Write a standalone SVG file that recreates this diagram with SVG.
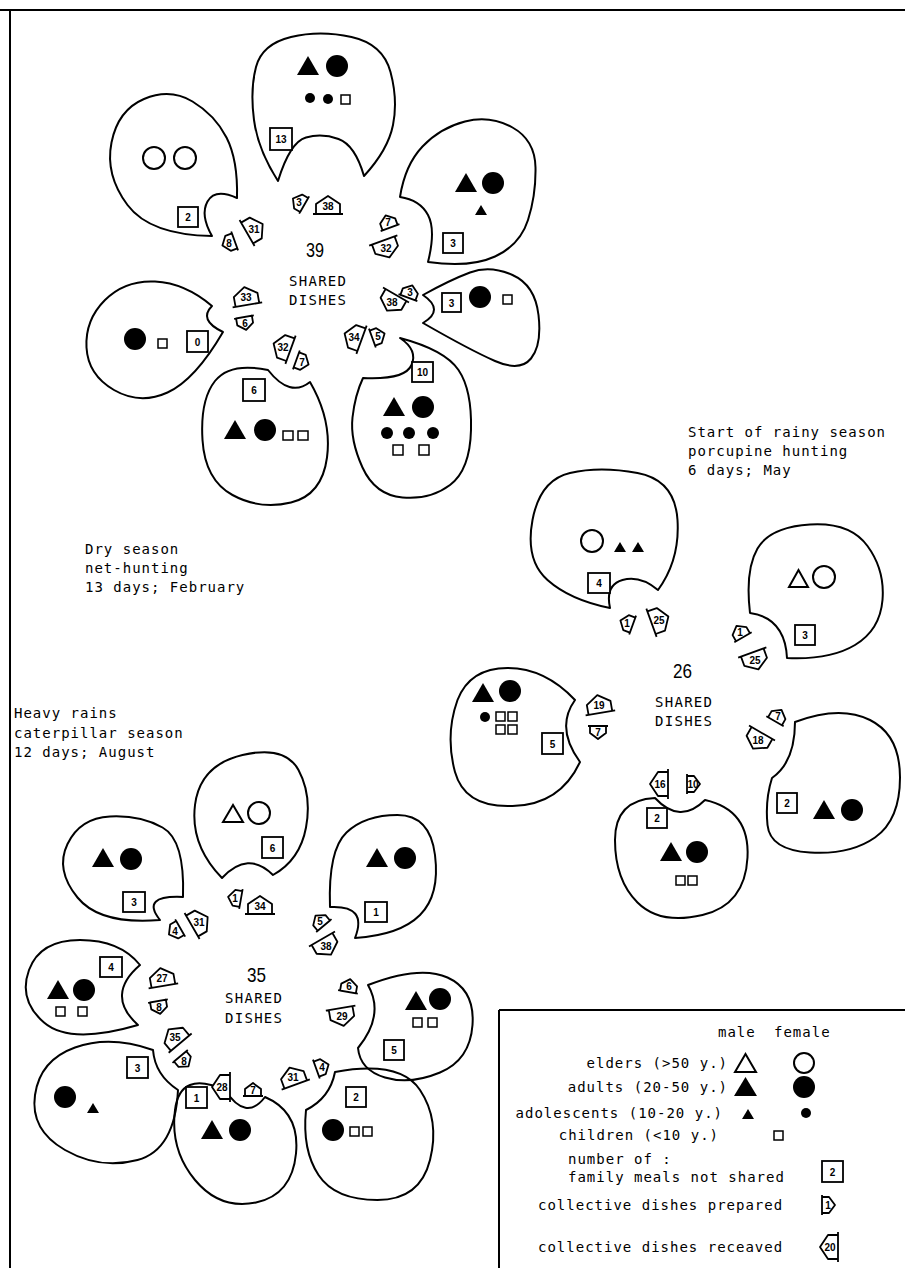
<svg xmlns="http://www.w3.org/2000/svg" xmlns:xlink="http://www.w3.org/1999/xlink" width="905" height="1268" viewBox="0 0 905 1268">
<style>
.blob{fill:none;stroke:#000;stroke-width:2;stroke-linejoin:round}
.box{fill:#fff;stroke:#000;stroke-width:1.8}
.bt{font-family:"Liberation Sans",Arial,sans-serif;font-weight:bold;font-size:10px;text-anchor:middle}
.lbl{font-family:"DejaVu Sans Mono","Liberation Mono",monospace;font-size:14px;letter-spacing:1px}
.ctr{font-family:"DejaVu Sans Mono","Liberation Mono",monospace;font-size:14px;text-anchor:middle}
.big{font-family:"Liberation Sans",Arial,sans-serif;font-size:21px;text-anchor:middle}
.f{fill:#000}
.o{fill:none;stroke:#000;stroke-width:2}
.sq{fill:#fff;stroke:#000;stroke-width:1.5}
.mk{fill:#fff;stroke:#000;stroke-width:1.8;stroke-linejoin:round}
.mt{font-family:"Liberation Sans",Arial,sans-serif;font-weight:bold;font-size:10px;text-anchor:middle}
.frame{fill:none;stroke:#000;stroke-width:2}
</style>
<defs>
<path id="tri" d="M-11,9 L0,-10 L11,9 Z"/>
<path id="stri" d="M-6,5 L0,-5 L6,5 Z"/>
<path id="mb" d="M-12,8 L-12,-2 L0,-10 L12,-2 L12,8 Z M-15,8 L15,8"/>
<path id="ms" d="M-8,6 L-8,-1 L0,-7 L8,-1 L8,6 Z M-10,6 L10,6"/>
</defs>
<rect width="905" height="1268" fill="#fff"/>
<path class="frame" d="M0,10 L905,10 M10,10 L10,1268"/>
<path class="frame" d="M499,1010 L905,1010 M499,1010 L499,1268"/>

<!-- TOP CLUSTER -->
<g id="top-13">
<path class="blob" d="M278,181 Q258,150 254,120 Q250,90 256,67 Q262,44 291,37 Q320,30 351.5,37 Q383,44 390.5,72 Q398,100 393,125 Q388,150 364,176 Q355,145 338.5,139 Q322,133 306,137.5 Q290,142 278,181 Z"/>
<use href="#tri" class="f" x="308" y="66"/><circle class="f" cx="337" cy="66" r="11"/>
<circle class="f" cx="310" cy="98" r="5"/><circle class="f" cx="328" cy="99" r="5"/><rect class="sq" x="341" y="95" width="9" height="9"/>
<rect class="box" x="270" y="128" width="22" height="22"/><text class="bt" x="281" y="143">13</text>
</g>
<g id="top-2">
<path class="blob" d="M237,198 Q238,160 226.5,137.5 Q215,115 192.5,101.5 Q170,88 144,99 Q118,110 111.5,142.5 Q105,175 127.5,205 Q150,235 212,236 Q200,215 207.5,201.5 Q215,188 237,198 Z"/>
<circle class="o" cx="154" cy="158" r="11"/><circle class="o" cx="185" cy="158" r="11"/>
<rect class="box" x="178" y="207" width="20" height="20"/><text class="bt" x="188" y="221">2</text>
</g>
<g id="top-3a">
<path class="blob" d="M400,197 Q405,165 422.5,146.5 Q440,128 465,121.5 Q490,115 512.5,127.5 Q535,140 535.5,167.5 Q536,195 528,220 Q520,245 495,256.5 Q470,268 428,262 Q436,230 428,215 Q420,200 400,197 Z"/>
<use href="#tri" class="f" x="466" y="183"/><circle class="f" cx="493" cy="183" r="11"/>
<use href="#stri" class="f" x="481" y="210"/>
<rect class="box" x="443" y="233" width="20" height="20"/><text class="bt" x="453" y="247">3</text>
</g>
<g id="top-3b">
<path class="blob" d="M423,295 Q450,280 470,272.5 Q490,265 512.5,275 Q535,285 538.5,315 Q542,345 531,358.5 Q520,372 495,361 Q470,350 423,323 Q445,310 423,295 Z"/>
<rect class="box" x="442" y="293" width="19" height="19"/><text class="bt" x="451.5" y="306.5">3</text>
<circle class="f" cx="480" cy="297" r="11"/><rect class="sq" x="503" y="295" width="9" height="9"/>
</g>
<g id="top-10">
<path class="blob" d="M400,338 Q445,350 458.5,370 Q472,390 471,430 Q470,470 450,485 Q430,500 402.5,497.5 Q375,495 362.5,467.5 Q350,440 352.5,417.5 Q355,395 363,378 Q405,380 411.5,365 Q418,350 400,338 Z"/>
<rect class="box" x="412" y="362" width="21" height="20"/><text class="bt" x="422.5" y="376">10</text>
<use href="#tri" class="f" x="394" y="407"/><circle class="f" cx="423" cy="407" r="11"/>
<circle class="f" cx="387" cy="433" r="6"/><circle class="f" cx="409" cy="433" r="6"/><circle class="f" cx="433" cy="433" r="6"/>
<rect class="sq" x="393" y="445" width="10" height="10"/><rect class="sq" x="419" y="445" width="10" height="10"/>
</g>
<g id="top-6">
<path class="blob" d="M268,370 Q230,362 215,381 Q200,400 202.5,440 Q205,480 232.5,495 Q260,510 291,502.5 Q322,495 327,457.5 Q332,420 310,382 Q290,398 268,370 Z"/>
<rect class="box" x="243" y="379" width="22" height="22"/><text class="bt" x="254" y="394">6</text>
<use href="#tri" class="f" x="235" y="430"/><circle class="f" cx="265" cy="430" r="11"/>
<rect class="sq" x="283" y="431" width="10" height="9"/><rect class="sq" x="298" y="431" width="10" height="9"/>
</g>
<g id="top-0">
<path class="blob" d="M212,306 Q185,283 155,281.5 Q125,280 105,300 Q85,320 86.5,347.5 Q88,375 114,390 Q140,405 167.5,392.5 Q195,380 223,332 Q198,320 212,306 Z"/>
<circle class="f" cx="135" cy="339" r="11"/><rect class="sq" x="158" y="339" width="9" height="9"/>
<rect class="box" x="187" y="331" width="21" height="21"/><text class="bt" x="197.5" y="345.5">0</text>
</g>
<g id="top-center">
<text class="big" x="315" y="257" textLength="18" lengthAdjust="spacingAndGlyphs">39</text>
<text class="ctr" x="317.5" y="286" textLength="57">SHARED</text>
<text class="ctr" x="317.5" y="305" textLength="57">DISHES</text>
</g>

<!-- RIGHT CLUSTER -->
<g id="right-4">
<path class="blob" d="M658,590 Q680,560 677.5,520 Q675,480 637.5,473 Q600,466 570,473 Q540,480 532.5,520 Q525,560 547.5,580 Q570,600 610,608 Q605,585 622.5,580 Q640,575 658,590 Z"/>
<circle class="o" cx="592" cy="541" r="11"/>
<use href="#stri" class="f" x="620" y="547"/><use href="#stri" class="f" x="638" y="547"/>
<rect class="box" x="588" y="573" width="22" height="20"/><text class="bt" x="599" y="587">4</text>
</g>
<g id="right-3">
<path class="blob" d="M750,613 Q745,570 757.5,548.5 Q770,527 810,524.5 Q850,522 867.5,546 Q885,570 882.5,600 Q880,630 855,645 Q830,660 787,658 Q785,618 750,613 Z"/>
<path class="o" d="M789,587 L798.5,570 L808,587 Z"/><circle class="o" cx="824" cy="577" r="11"/>
<rect class="box" x="795" y="625" width="20" height="20"/><text class="bt" x="805" y="639">3</text>
</g>
<g id="right-5">
<path class="blob" d="M575,700 Q545,668 507.5,668 Q470,668 457.5,700 Q445,735 455,772 Q465,808 512.5,806 Q560,805 580,762 Q555,728 575,700 Z"/>
<use href="#tri" class="f" x="483" y="693"/><circle class="f" cx="510" cy="691" r="11"/>
<circle class="f" cx="485" cy="717" r="5"/>
<rect class="sq" x="496" y="712" width="9" height="9"/><rect class="sq" x="508" y="712" width="9" height="9"/>
<rect class="sq" x="496" y="725" width="9" height="9"/><rect class="sq" x="508" y="725" width="9" height="9"/>
<rect class="box" x="542" y="733" width="21" height="21"/><text class="bt" x="552.5" y="747.5">5</text>
</g>
<g id="right-2a">
<path class="blob" d="M795,722 Q840,705 870,720 Q900,735 900,777.5 Q900,820 875,837.5 Q850,855 810,852.5 Q770,850 767.5,825 Q765,800 772,778 Q795,762 795,722 Z"/>
<rect class="box" x="777" y="793" width="20" height="20"/><text class="bt" x="787" y="807">2</text>
<use href="#tri" class="f" x="824" y="810"/><circle class="f" cx="852" cy="810" r="11"/>
</g>
<g id="right-2b">
<path class="blob" d="M655,798 Q615,800 615,840 Q615,880 637.5,902.5 Q660,925 702.5,915 Q745,905 747.5,857.5 Q750,810 705,800 Q680,825 655,798 Z"/>
<rect class="box" x="647" y="808" width="20" height="20"/><text class="bt" x="657" y="822">2</text>
<use href="#tri" class="f" x="671" y="852"/><circle class="f" cx="697" cy="852" r="11"/>
<rect class="sq" x="676" y="876" width="9" height="9"/><rect class="sq" x="688" y="876" width="9" height="9"/>
</g>
<g id="right-center">
<text class="big" x="682.5" y="678" textLength="19" lengthAdjust="spacingAndGlyphs">26</text>
<text class="ctr" x="683.5" y="707" textLength="57">SHARED</text>
<text class="ctr" x="683.5" y="726" textLength="57">DISHES</text>
</g>

<!-- BOTTOM CLUSTER -->
<g id="bottom-6">
<path class="blob" d="M222,878 Q190,845 195,805 Q200,765 242.5,755 Q285,745 298.5,770 Q312,795 306,827.5 Q300,860 273,875 Q248,850 222,878 Z"/>
<path class="o" d="M223,822 L233,805 L243,822 Z"/><circle class="o" cx="259" cy="813" r="11"/>
<rect class="box" x="262" y="837" width="21" height="21"/><text class="bt" x="272.5" y="851.5">6</text>
</g>
<g id="bottom-3a">
<path class="blob" d="M183,897 Q185,840 162.5,827.5 Q140,815 110,816.5 Q80,818 67.5,844 Q55,870 77.5,897.5 Q100,925 160,920 Q140,895 183,897 Z"/>
<use href="#tri" class="f" x="103" y="858"/><circle class="f" cx="131" cy="859" r="11"/>
<rect class="box" x="123" y="892" width="22" height="20"/><text class="bt" x="134" y="906">3</text>
</g>
<g id="bottom-4">
<path class="blob" d="M140,965 Q120,940 80,940 Q40,940 29,970 Q18,1000 44,1022.5 Q70,1045 138,1025 Q105,995 140,965 Z"/>
<use href="#tri" class="f" x="58" y="990"/><circle class="f" cx="84" cy="990" r="11"/>
<rect class="sq" x="56" y="1007" width="9" height="9"/><rect class="sq" x="78" y="1007" width="9" height="9"/>
<rect class="box" x="100" y="957" width="22" height="20"/><text class="bt" x="111" y="971">4</text>
</g>
<g id="bottom-3b">
<path class="blob" d="M153,1050 Q110,1035 75,1047.5 Q40,1060 35,1095 Q30,1130 65,1150 Q100,1170 137.5,1160 Q175,1150 178,1090 Q155,1075 153,1050 Z"/>
<rect class="box" x="127" y="1057" width="21" height="21"/><text class="bt" x="137.5" y="1071.5">3</text>
<circle class="f" cx="65" cy="1097" r="11"/><use href="#stri" class="f" x="93" y="1108"/>
</g>
<g id="bottom-1a">
<path class="blob" d="M225,1090 Q180,1070 175,1110 Q170,1150 195,1180 Q220,1210 256,1202.5 Q292,1195 296,1153.5 Q300,1112 265,1097 Q246,1122 225,1090 Z"/>
<rect class="box" x="186" y="1087" width="21" height="21"/><text class="bt" x="196.5" y="1101.5">1</text>
<use href="#tri" class="f" x="212" y="1130"/><circle class="f" cx="240" cy="1130" r="11"/>
</g>
<g id="bottom-2">
<path class="blob" d="M335,1072 Q400,1060 420,1090 Q440,1120 430,1160 Q420,1200 377.5,1200 Q335,1200 318.5,1175 Q302,1150 306,1110 Q330,1098 335,1072 Z"/>
<rect class="box" x="346" y="1087" width="20" height="20"/><text class="bt" x="356" y="1101">2</text>
<circle class="f" cx="333" cy="1130" r="11"/>
<rect class="sq" x="350" y="1127" width="9" height="9"/><rect class="sq" x="363" y="1127" width="9" height="9"/>
</g>
<g id="bottom-5">
<path class="blob" d="M368,985 Q420,965 447.5,977.5 Q475,990 472.5,1025 Q470,1060 440,1072.5 Q410,1085 385,1077.5 Q360,1070 358,1048 Q385,1015 368,985 Z"/>
<use href="#tri" class="f" x="416" y="1001"/><circle class="f" cx="440" cy="999" r="11"/>
<rect class="sq" x="413" y="1018" width="9" height="9"/><rect class="sq" x="428" y="1018" width="9" height="9"/>
<rect class="box" x="384" y="1040" width="20" height="20"/><text class="bt" x="394" y="1054">5</text>
</g>
<g id="bottom-1b">
<path class="blob" d="M330,907 Q328,850 346.5,832.5 Q365,815 397.5,815 Q430,815 435,855 Q440,895 420,915 Q400,935 355,938 Q368,905 330,907 Z"/>
<use href="#tri" class="f" x="377" y="858"/><circle class="f" cx="405" cy="858" r="11"/>
<rect class="box" x="365" y="902" width="22" height="20"/><text class="bt" x="376" y="916">1</text>
</g>
<g id="bottom-center">
<text class="big" x="256.5" y="982" textLength="19" lengthAdjust="spacingAndGlyphs">35</text>
<text class="ctr" x="253.5" y="1003" textLength="57">SHARED</text>
<text class="ctr" x="253.5" y="1023" textLength="57">DISHES</text>
</g>

<!-- DISH EXCHANGE MARKERS (connectors) -->
<g id="dishes">
<use href="#ms" class="mk" transform="translate(299,202) rotate(-60)"/><text class="mt" x="299" y="205.5">3</text>
<use href="#mb" class="mk" transform="translate(328,206) rotate(0)"/><text class="mt" x="328" y="210">38</text>
<use href="#ms" class="mk" transform="translate(229,243) rotate(-110)"/><text class="mt" x="229" y="246.5">8</text>
<use href="#mb" class="mk" transform="translate(254,229) rotate(60)"/><text class="mt" x="254" y="232.5">31</text>
<use href="#ms" class="mk" transform="translate(388,222) rotate(-20)"/><text class="mt" x="388" y="225.5">7</text>
<use href="#mb" class="mk" transform="translate(386,248) rotate(160)"/><text class="mt" x="386" y="251.5">32</text>
<use href="#ms" class="mk" transform="translate(410,292) rotate(20)"/><text class="mt" x="410" y="295.5">3</text>
<use href="#mb" class="mk" transform="translate(392,302) rotate(-150)"/><text class="mt" x="392" y="305.5">38</text>
<use href="#mb" class="mk" transform="translate(354,337) rotate(-70)"/><text class="mt" x="354" y="340.5">34</text>
<use href="#ms" class="mk" transform="translate(378,336) rotate(70)"/><text class="mt" x="378" y="339.5">5</text>
<use href="#mb" class="mk" transform="translate(283,347) rotate(-70)"/><text class="mt" x="283" y="350.5">32</text>
<use href="#ms" class="mk" transform="translate(302,362) rotate(110)"/><text class="mt" x="302" y="365.5">7</text>
<use href="#mb" class="mk" transform="translate(246,297) rotate(-10)"/><text class="mt" x="246" y="300.5">33</text>
<use href="#ms" class="mk" transform="translate(245,323) rotate(170)"/><text class="mt" x="245" y="326.5">6</text>

<use href="#ms" class="mk" transform="translate(627,623) rotate(-70)"/><text class="mt" x="627" y="626.5">1</text>
<use href="#mb" class="mk" transform="translate(659,620) rotate(70)"/><text class="mt" x="659" y="623.5">25</text>
<use href="#ms" class="mk" transform="translate(740,632) rotate(-30)"/><text class="mt" x="740" y="635.5">1</text>
<use href="#mb" class="mk" transform="translate(755,660) rotate(160)"/><text class="mt" x="755" y="663.5">25</text>
<use href="#mb" class="mk" transform="translate(599,705) rotate(-10)"/><text class="mt" x="599" y="708.5">19</text>
<use href="#ms" class="mk" transform="translate(598,732) rotate(180)"/><text class="mt" x="598" y="735.5">7</text>
<use href="#ms" class="mk" transform="translate(778,716) rotate(30)"/><text class="mt" x="778" y="719.5">7</text>
<use href="#mb" class="mk" transform="translate(758,740) rotate(-150)"/><text class="mt" x="758" y="743.5">18</text>
<use href="#mb" class="mk" transform="translate(660,784) rotate(-90)"/><text class="mt" x="660" y="787.5">16</text>
<use href="#ms" class="mk" transform="translate(693,784) rotate(90)"/><text class="mt" x="693" y="787.5">10</text>

<use href="#ms" class="mk" transform="translate(235,898) rotate(-80)"/><text class="mt" x="235" y="901.5">1</text>
<use href="#mb" class="mk" transform="translate(260,906) rotate(0)"/><text class="mt" x="260" y="910">34</text>
<use href="#ms" class="mk" transform="translate(175,931) rotate(-120)"/><text class="mt" x="175" y="934.5">4</text>
<use href="#mb" class="mk" transform="translate(199,922) rotate(60)"/><text class="mt" x="199" y="925.5">31</text>
<use href="#mb" class="mk" transform="translate(162,978) rotate(-10)"/><text class="mt" x="162" y="981.5">27</text>
<use href="#ms" class="mk" transform="translate(159,1007) rotate(170)"/><text class="mt" x="159" y="1010.5">8</text>
<use href="#mb" class="mk" transform="translate(175,1037) rotate(-40)"/><text class="mt" x="175" y="1040.5">35</text>
<use href="#ms" class="mk" transform="translate(184,1061) rotate(140)"/><text class="mt" x="184" y="1064.5">8</text>
<use href="#mb" class="mk" transform="translate(222,1087) rotate(-90)"/><text class="mt" x="222" y="1090.5">28</text>
<use href="#ms" class="mk" transform="translate(253,1090) rotate(0)"/><text class="mt" x="253" y="1093.5">7</text>
<use href="#mb" class="mk" transform="translate(293,1077) rotate(-20)"/><text class="mt" x="293" y="1080.5">31</text>
<use href="#ms" class="mk" transform="translate(322,1067) rotate(70)"/><text class="mt" x="322" y="1070.5">4</text>
<use href="#ms" class="mk" transform="translate(349,986) rotate(10)"/><text class="mt" x="349" y="989.5">6</text>
<use href="#mb" class="mk" transform="translate(342,1016) rotate(170)"/><text class="mt" x="342" y="1019.5">29</text>
<use href="#ms" class="mk" transform="translate(320,921) rotate(-40)"/><text class="mt" x="320" y="924.5">5</text>
<use href="#mb" class="mk" transform="translate(326,946) rotate(150)"/><text class="mt" x="326" y="949.5">38</text>
</g>

<!-- SEASON LABELS -->
<g id="labels">
<text class="lbl" x="688" y="437">Start of rainy season</text>
<text class="lbl" x="688" y="456">porcupine hunting</text>
<text class="lbl" x="688" y="475">6 days; May</text>
<text class="lbl" x="85" y="554">Dry season</text>
<text class="lbl" x="85" y="573">net-hunting</text>
<text class="lbl" x="85" y="592">13 days; February</text>
<text class="lbl" x="14" y="718">Heavy rains</text>
<text class="lbl" x="14" y="738">caterpillar season</text>
<text class="lbl" x="14" y="757">12 days; August</text>
</g>

<!-- LEGEND -->
<g id="legend">
<text class="lbl" x="718" y="1037">male</text>
<text class="lbl" x="774" y="1037">female</text>
<text class="lbl" x="728" y="1068" text-anchor="end">elders (&gt;50 y.)</text>
<path class="o" d="M735,1072 L745.5,1054 L756,1072 Z"/><circle class="o" cx="804" cy="1063" r="10"/>
<text class="lbl" x="728" y="1092" text-anchor="end">adults (20-50 y.)</text>
<path class="f" d="M734,1096 L745.5,1077 L757,1096 Z"/><circle class="f" cx="804" cy="1087" r="11"/>
<text class="lbl" x="723" y="1118" text-anchor="end">adolescents (10-20 y.)</text>
<use href="#stri" class="f" x="748" y="1114"/><circle class="f" cx="806" cy="1113" r="5"/>
<text class="lbl" x="719" y="1140" text-anchor="end">children (&lt;10 y.)</text>
<rect class="sq" x="774" y="1131" width="9" height="9"/>
<text class="lbl" x="568" y="1164">number of :</text>
<text class="lbl" x="568" y="1182">family meals not shared</text>
<rect class="box" x="822" y="1161" width="21" height="21"/><text class="bt" x="832.5" y="1175.5">2</text>
<text class="lbl" x="538" y="1210">collective dishes prepared</text>
<use href="#ms" class="mk" transform="translate(828,1205) rotate(90)"/><text class="mt" x="828" y="1208.5">1</text>
<text class="lbl" x="538" y="1252">collective dishes receaved</text>
<use href="#mb" class="mk" transform="translate(830,1247) rotate(-90)"/><text class="mt" x="830" y="1250.5">20</text>
</g>
</svg>
